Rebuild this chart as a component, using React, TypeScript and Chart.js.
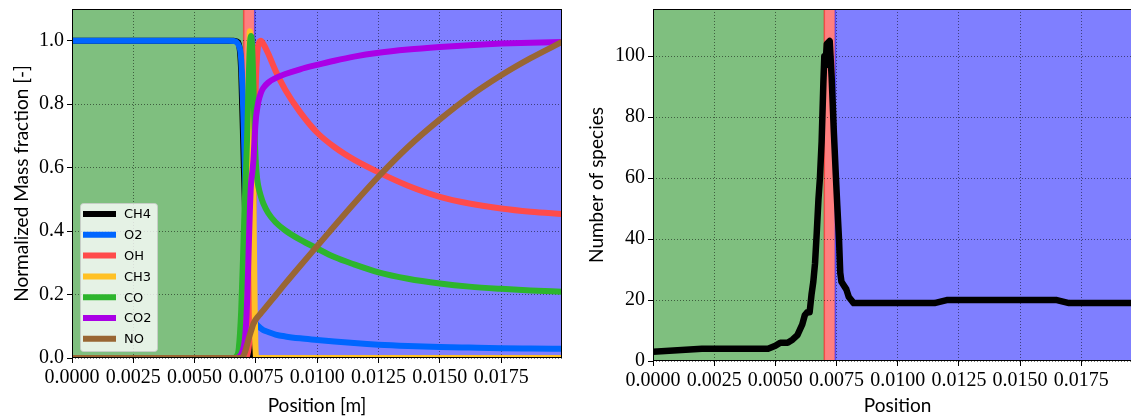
import { useEffect, useRef } from "react";
import { Chart, registerables } from "chart.js";

Chart.register(...registerables);

// ---------- data (left panel: normalized mass fractions) ----------
const positions = [
  0, 0.002, 0.004, 0.006, 0.0064, 0.0066, 0.0067, 0.0068, 0.0069, 0.007, 0.00705, 0.0071, 0.00715,
  0.0072, 0.00725, 0.0073, 0.00735, 0.0074, 0.00745, 0.0075, 0.00755, 0.0076, 0.0077, 0.0078, 0.008,
  0.0083, 0.0087, 0.0093, 0.01, 0.0107, 0.0115, 0.0125, 0.0137, 0.015, 0.0162, 0.0175, 0.0187, 0.01998,
];

const ch4 = [
  1, 1, 1, 1, 1, 1, 0.998, 0.99, 0.9, 0.62, 0.48, 0.35, 0.22, 0.1, 0.03, 0.005,
  0, 0, 0, 0, 0, 0, 0, 0, 0, 0, 0, 0, 0, 0, 0, 0, 0, 0, 0, 0, 0, 0,
];
const o2 = [
  1, 1, 1, 1, 1, 0.999, 0.996, 0.985, 0.94, 0.74, 0.6, 0.47, 0.36, 0.27, 0.2, 0.16, 0.14, 0.127,
  0.117, 0.109, 0.104, 0.1, 0.093, 0.088, 0.082, 0.074, 0.068, 0.062, 0.057, 0.052, 0.047, 0.042,
  0.038, 0.035, 0.033, 0.031, 0.03, 0.029,
];
const oh = [
  0, 0, 0, 0, 0, 0, 0, 0, 0, 0, 0, 0, 0.01, 0.03, 0.07, 0.14, 0.27, 0.48, 0.72, 0.88, 0.955, 0.988,
  1.0, 0.99, 0.96, 0.905, 0.845, 0.775, 0.71, 0.665, 0.625, 0.585, 0.543, 0.508, 0.487, 0.471, 0.461,
  0.454,
];
const ch3 = [
  0, 0, 0, 0, 0, 0, 0, 0, 0, 0.01, 0.05, 0.15, 0.35, 0.7, 1.03, 0.95, 0.75, 0.48, 0.15, 0.005,
  0, 0, 0, 0, 0, 0, 0, 0, 0, 0, 0, 0, 0, 0, 0, 0, 0, 0,
];
const co = [
  0, 0, 0, 0, 0, 0, 0.005, 0.03, 0.15, 0.38, 0.5, 0.6, 0.72, 0.86, 0.98, 1.015, 0.97, 0.85, 0.7,
  0.61, 0.565, 0.54, 0.51, 0.487, 0.457, 0.428, 0.402, 0.373, 0.345, 0.318, 0.295, 0.27, 0.25, 0.235,
  0.225, 0.218, 0.213, 0.209,
];
const co2 = [
  0, 0, 0, 0, 0, 0, 0, 0.003, 0.012, 0.035, 0.06, 0.11, 0.2, 0.33, 0.46, 0.55, 0.585, 0.625, 0.7,
  0.755, 0.785, 0.808, 0.835, 0.851, 0.868, 0.882, 0.895, 0.91, 0.924, 0.937, 0.95, 0.962, 0.972, 0.98,
  0.986, 0.991, 0.994, 0.996,
];
const no = [
  0, 0, 0, 0, 0, 0, 0, 0, 0, 0.008, 0.018, 0.03, 0.045, 0.06, 0.073, 0.085, 0.097, 0.108, 0.116,
  0.122, 0.127, 0.132, 0.141, 0.15, 0.169, 0.197, 0.235, 0.29, 0.353, 0.416, 0.487, 0.572, 0.665,
  0.752, 0.824, 0.891, 0.945, 0.996,
];

const speciesNames = ["CH4", "O2", "OH", "CH3", "CO", "CO2", "NO"];
const speciesValues = [ch4, o2, oh, ch3, co, co2, no];
const speciesColors = ["#000000", "#0066ff", "#ff4b4b", "#ffc125", "#2db52d", "#aa00e6", "#996633"];

// ---------- data (right panel: number of species) ----------
const countPositions = [
  0, 0.002, 0.0047, 0.005, 0.0052, 0.0055, 0.0057, 0.0059, 0.0061, 0.0062, 0.0063, 0.0064, 0.00648,
  0.00655, 0.00662, 0.00669, 0.00676, 0.00682, 0.00689, 0.00696, 0.007, 0.00705, 0.0071, 0.00722,
  0.0073, 0.00739, 0.00747, 0.00753, 0.0076, 0.00765, 0.0077, 0.0079, 0.008, 0.0082, 0.0115, 0.012,
  0.0165, 0.017, 0.01998,
];
const speciesCounts = [
  3, 4, 4, 5, 6, 6, 7, 8.5, 12, 15, 16, 16, 22, 26, 32, 42, 53, 60, 72, 91, 100, 97, 104, 105, 93,
  75, 61, 51, 40, 29, 26, 23.5, 21, 19, 19, 20, 20, 19, 19,
];

// ---------- axes ----------
const xTicks = [0, 0.0025, 0.005, 0.0075, 0.01, 0.0125, 0.015, 0.0175];
const fractionTicks = [0, 0.2, 0.4, 0.6, 0.8, 1.0];
const countTicks = [0, 20, 40, 60, 80, 100];
const xMax = 0.01998;
const fractionMax = 1.1;
const countMax = 115.5;

// zones: preheat / reaction / post-flame
const zoneBounds = [0, 0.007, 0.00745, 0.01998];
const zoneColors = ["rgba(0,128,0,0.5)", "rgba(255,0,0,0.5)", "rgba(0,0,255,0.5)"];

const TICK_FONT = { family: "'Liberation Serif', serif", size: 20 };
const TITLE_FONT = { family: "Lato, sans-serif", size: 19 };

const zonePlugin = {
  id: "zones",
  beforeDraw(chart: any) {
    const { ctx, chartArea } = chart;
    const xs = chart.scales.x;
    ctx.save();
    for (let i = 0; i < zoneColors.length; i++) {
      const a = xs.getPixelForValue(zoneBounds[i]);
      const b = xs.getPixelForValue(zoneBounds[i + 1]);
      ctx.fillStyle = zoneColors[i];
      ctx.fillRect(a, chartArea.top, b - a, chartArea.bottom - chartArea.top);
    }
    for (let i = 1; i < zoneColors.length; i++) {
      const a = xs.getPixelForValue(zoneBounds[i]);
      ctx.strokeStyle = zoneColors[i];
      ctx.lineWidth = 1.5;
      ctx.beginPath();
      ctx.moveTo(a, chartArea.top);
      ctx.lineTo(a, chartArea.bottom);
      ctx.stroke();
    }
    ctx.restore();
  },
};

const framePlugin = {
  id: "frame",
  afterDraw(chart: any) {
    const { ctx, chartArea } = chart;
    ctx.save();
    ctx.strokeStyle = "#000";
    ctx.lineWidth = 1;
    ctx.strokeRect(
      chartArea.left + 0.5,
      chartArea.top + 0.5,
      chartArea.right - chartArea.left - 1,
      chartArea.bottom - chartArea.top - 1
    );
    ctx.restore();
  },
};

const legendPlugin = {
  id: "insideLegend",
  afterDraw(chart: any) {
    const { ctx, chartArea } = chart;
    const rowH = 20.8;
    const boxX = chartArea.left + 8;
    const boxW = 77;
    const boxH = 148;
    const boxY = chartArea.bottom - 7 - boxH;
    ctx.save();
    ctx.beginPath();
    ctx.roundRect(boxX + 0.5, boxY + 0.5, boxW, boxH, 3);
    ctx.fillStyle = "rgba(255,255,255,0.8)";
    ctx.fill();
    ctx.strokeStyle = "rgba(204,204,204,0.8)";
    ctx.lineWidth = 1;
    ctx.stroke();
    ctx.font = "13px 'DejaVu Sans', sans-serif";
    ctx.textBaseline = "middle";
    ctx.textAlign = "left";
    speciesNames.forEach((name, i) => {
      const y = boxY + 11 + i * rowH;
      ctx.strokeStyle = speciesColors[i];
      ctx.lineWidth = 6;
      ctx.lineCap = "butt";
      ctx.beginPath();
      ctx.moveTo(boxX + 3, y);
      ctx.lineTo(boxX + 36, y);
      ctx.stroke();
      ctx.fillStyle = "#000";
      ctx.fillText(name, boxX + 44, y + 1);
    });
    ctx.restore();
  },
};

function zeroPadding(s: any) {
  s.paddingLeft = 0;
  s.paddingRight = 0;
  s.paddingTop = 0;
  s.paddingBottom = 0;
}

function xScale(title: string, height: number) {
  return {
    type: "linear",
    min: 0,
    max: xMax,
    afterBuildTicks: (s: any) => {
      s.ticks = xTicks.map((v) => ({ value: v }));
    },
    afterFit: (s: any) => {
      s.height = height;
      zeroPadding(s);
    },
    grid: {
      color: "rgba(0,0,0,0.5)",
      lineWidth: 1,
      tickLength: 5,
      tickColor: "#000",
      tickWidth: 1,
      tickBorderDash: [],
    },
    border: { display: false, dash: [1, 2] },
    ticks: {
      color: "#000",
      font: TICK_FONT,
      padding: 3,
      maxRotation: 0,
      minRotation: 0,
      autoSkip: false,
      callback: (v: any) => Number(v).toFixed(4),
    },
    title: {
      display: true,
      text: title,
      color: "#000",
      font: TITLE_FONT,
      padding: { top: 0, bottom: 0 },
    },
  };
}

function yScale(title: string, width: number, max: number, ticks: number[], fmt: (v: number) => string) {
  return {
    type: "linear",
    min: 0,
    max,
    afterBuildTicks: (s: any) => {
      s.ticks = ticks.map((v) => ({ value: v }));
    },
    afterFit: (s: any) => {
      s.width = width;
      zeroPadding(s);
    },
    grid: {
      color: "rgba(0,0,0,0.5)",
      lineWidth: 1,
      tickLength: 5,
      tickColor: "#000",
      tickWidth: 1,
      tickBorderDash: [],
    },
    border: { display: false, dash: [1, 2] },
    ticks: {
      color: "#000",
      font: TICK_FONT,
      padding: 3,
      autoSkip: false,
      callback: (v: any) => fmt(Number(v)),
    },
    title: {
      display: true,
      text: title,
      color: "#000",
      font: TITLE_FONT,
      padding: { top: 10, bottom: 0 },
    },
  };
}

export default function App() {
  const leftRef = useRef<HTMLCanvasElement>(null);
  const rightRef = useRef<HTMLCanvasElement>(null);

  useEffect(() => {
    document.body.style.margin = "0";
    const left = new Chart(leftRef.current as HTMLCanvasElement, {
      type: "line",
      data: {
        datasets: speciesNames.map((name, i) => ({
          label: name,
          data: positions.map((x, j) => ({ x, y: speciesValues[i][j] })),
          borderColor: speciesColors[i],
          backgroundColor: speciesColors[i],
          borderWidth: 6,
          pointRadius: 0,
          cubicInterpolationMode: "monotone",
          borderJoinStyle: "round",
          fill: false,
          clip: 0,
          order: speciesNames.length - i,
        })),
      } as any,
      options: {
        animation: false,
        responsive: false,
        devicePixelRatio: 1,
        layout: { padding: { left: 0, right: 13, top: 9, bottom: 0 } },
        plugins: { legend: { display: false }, tooltip: { enabled: false } },
        scales: {
          x: xScale("Position [m]", 59),
          y: yScale("Normalized Mass fraction [-]", 72, fractionMax, fractionTicks, (v) => v.toFixed(1)),
        } as any,
      },
      plugins: [zonePlugin, framePlugin, legendPlugin],
    });

    const right = new Chart(rightRef.current as HTMLCanvasElement, {
      type: "line",
      data: {
        datasets: [
          {
            label: "Number of species",
            data: countPositions.map((x, j) => ({ x, y: speciesCounts[j] })),
            borderColor: "#000",
            backgroundColor: "#000",
            borderWidth: 6.5,
            pointRadius: 0,
            tension: 0,
            borderJoinStyle: "round",
            fill: false,
            clip: 0,
          },
        ],
      } as any,
      options: {
        animation: false,
        responsive: false,
        devicePixelRatio: 1,
        layout: { padding: { left: 0, right: 13, top: 9, bottom: 0 } },
        plugins: { legend: { display: false }, tooltip: { enabled: false } },
        scales: {
          x: xScale("Position", 56),
          y: yScale("Number of species", 78, countMax, countTicks, (v) => String(Math.round(v))),
        } as any,
      },
      plugins: [zonePlugin, framePlugin],
    });

    return () => {
      left.destroy();
      right.destroy();
    };
  }, []);

  return (
    <div
      style={{
        position: "fixed",
        left: 0,
        top: 0,
        width: 1131,
        height: 417,
        overflow: "hidden",
        background: "#fff",
      }}
    >
      <canvas
        ref={leftRef}
        width={575}
        height={417}
        style={{ position: "absolute", left: 0, top: 0, width: 575, height: 417 }}
      />
      <canvas
        ref={rightRef}
        width={580}
        height={417}
        style={{ position: "absolute", left: 575, top: 0, width: 580, height: 417 }}
      />
    </div>
  );
}
